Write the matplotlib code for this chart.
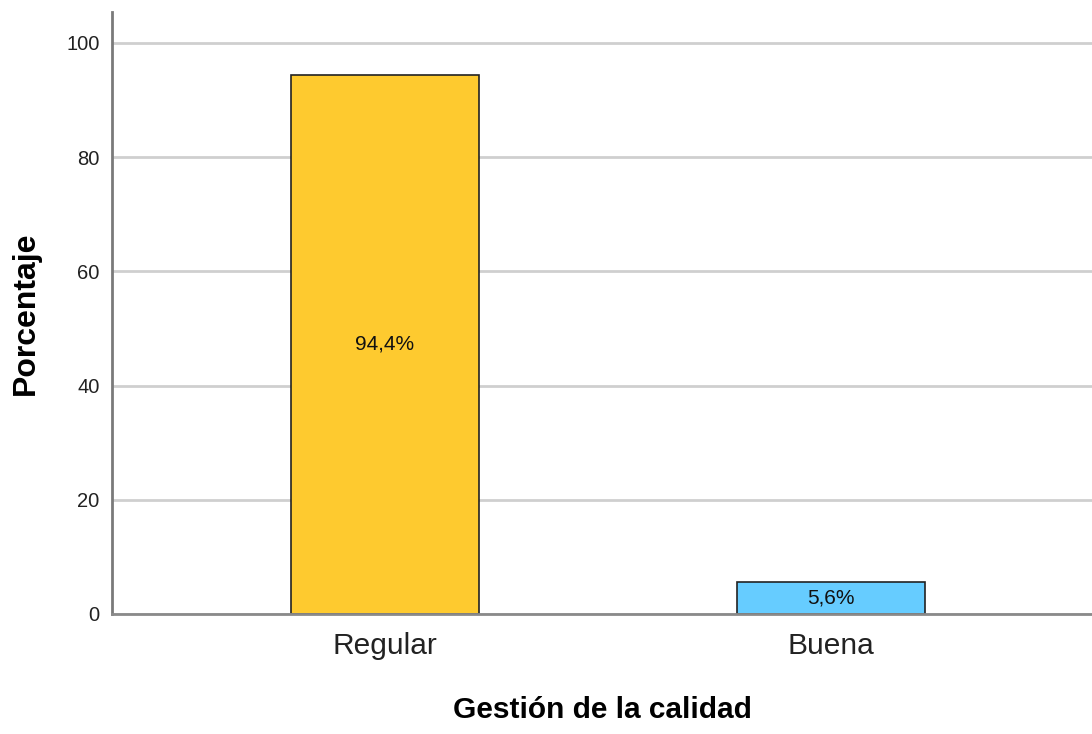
import matplotlib.pyplot as plt

plt.rcParams['font.family'] = ['Liberation Sans', 'DejaVu Sans']

categorias = ["Regular", "Buena"]
porcentajes = [94.4, 5.6]
etiquetas = ["94,4%", "5,6%"]
colores = ["#FECA2F", "#66CCFF"]

fig = plt.figure(figsize=(10.92, 7.34), dpi=100)
ax = fig.add_axes([0.1026, 0.1635, 0.8974, 0.8202])

x = list(range(len(categorias)))
barras = ax.bar(x, porcentajes, width=0.42, color=colores,
                edgecolor="#222222", linewidth=1.2, zorder=3)
ax.bar_label(barras, labels=etiquetas, label_type="center", fontsize=15, color="#111111")

ax.set_xlim(-0.612, 1.585)
ax.set_ylim(0, 105.4)
ax.set_yticks([0, 20, 40, 60, 80, 100])
ax.set_xticks(x)
ax.set_xticklabels(categorias)

ax.yaxis.grid(True, color="#CFCFCF", linewidth=2, zorder=0)
ax.set_axisbelow(True)
for s in ["top", "right"]:
    ax.spines[s].set_visible(False)
ax.spines["left"].set_color("#7A7A7A")
ax.spines["left"].set_linewidth(2)
ax.spines["bottom"].set_color("#8A8A8A")
ax.spines["bottom"].set_linewidth(2)
ax.spines["bottom"].set_zorder(4)

ax.tick_params(axis="y", length=0, pad=9, labelsize=14.5, labelcolor="#222222")
ax.tick_params(axis="x", length=0, pad=13, labelsize=21.5, labelcolor="#222222")

ax.set_xlabel("Gestión de la calidad", fontsize=21.5, fontweight="bold", labelpad=26)
ax.set_ylabel("Porcentaje", fontsize=23, fontweight="bold", labelpad=18)

fig.savefig("out.png", dpi=100)
